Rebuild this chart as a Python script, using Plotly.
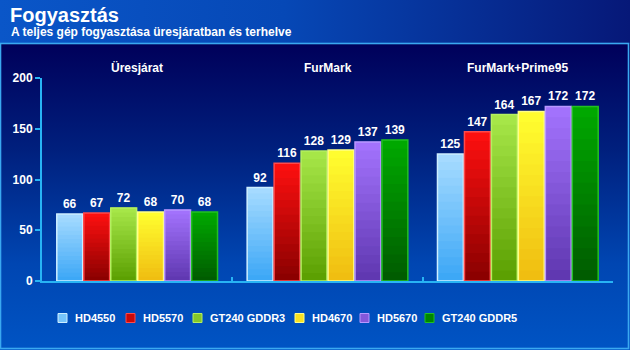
import base64
import plotly.graph_objects as go

categories = ["Üresjárat", "FurMark", "FurMark+Prime95"]
series_names = ["HD4550", "HD5570", "GT240 GDDR3", "HD4670", "HD5670", "GT240 GDDR5"]
hd4550 = [66, 92, 125]
hd5570 = [67, 116, 147]
gt240_gddr3 = [72, 128, 164]
hd4670 = [68, 129, 167]
hd5670 = [70, 137, 172]
gt240_gddr5 = [68, 139, 172]
y_ticks = [0, 50, 100, 150, 200]

series_values = [hd4550, hd5570, gt240_gddr3, hd4670, hd5670, gt240_gddr5]
tops = ["#a8dcff", "#ff1010", "#a8e84a", "#ffff30", "#a474ff", "#00aa00"]
bottoms = ["#3aa6f6", "#880000", "#5a9e00", "#f0bc10", "#5e36ae", "#005a00"]
edges = ["#cdeeff", "#ff4a4a", "#b4f060", "#ffff88", "#b898ff", "#22c022"]
legend_x = [58, 126, 193, 295, 360, 425]   # legend square left edges (px)

W, H = 630, 350
L, R, T, B = 42, 17, 78, 69
pw, ph = W - L - R, H - T - B
NSEG = 16


def hex2rgb(h):
    h = h.lstrip("#")
    return [int(h[i:i + 2], 16) for i in (0, 2, 4)]


def mix(c1, c2, t):
    a, b = hex2rgb(c1), hex2rgb(c2)
    return "rgb(%d,%d,%d)" % tuple(round(a[i] + (b[i] - a[i]) * t) for i in range(3))


def px_x(p):
    return (p - L) / pw


def px_y(p):
    return (H - B - p) / ph


svg = f'''<svg xmlns="http://www.w3.org/2000/svg" width="{W}" height="{H}" viewBox="0 0 {W} {H}">
<defs>
<linearGradient id="hd" x1="0" y1="0" x2="1" y2="0">
<stop offset="0" stop-color="#0a56c8"/><stop offset="0.45" stop-color="#0648b6"/><stop offset="1" stop-color="#061878"/>
</linearGradient>
<linearGradient id="bd" x1="0" y1="0" x2="0" y2="1">
<stop offset="0" stop-color="#00005a"/><stop offset="0.35" stop-color="#00207e"/><stop offset="0.72" stop-color="#0046b2"/><stop offset="1" stop-color="#0054c4"/>
</linearGradient>
</defs>
<rect x="0" y="0" width="{W}" height="44" fill="url(#hd)"/>
<rect x="0" y="44" width="{W}" height="{H-44}" fill="url(#bd)"/>
<rect x="0.5" y="43.5" width="{W-2}" height="{H-45}" fill="none" stroke="#3aa8f0" stroke-width="1.6"/>
</svg>'''
uri = "data:image/svg+xml;base64," + base64.b64encode(svg.encode()).decode()

font = "Liberation Sans, Arial, sans-serif"
fig = go.Figure()
for si, (name, vals) in enumerate(zip(series_names, series_values)):
    # gradient: overlapping layers, each reaching from a fraction of the value up to the value
    for k in range(NSEG):
        t = (k + 0.5) / NSEG  # 0 bottom -> 1 top
        fig.add_trace(go.Bar(
            x=categories, y=[v * (1 - k / NSEG) for v in vals],
            base=[v * k / NSEG for v in vals],
            offsetgroup=str(si), showlegend=False, hoverinfo="skip",
            marker=dict(color=mix(bottoms[si], tops[si], t), line=dict(width=0)),
        ))
    fig.add_trace(go.Bar(
        name=name, x=categories, y=vals, offsetgroup=str(si),
        marker=dict(color="rgba(0,0,0,0)", line=dict(color=edges[si], width=1.5)),
        text=[str(v) for v in vals], textposition="outside",
        textfont=dict(family=font, size=12, color="white", weight="bold"),
        constraintext="none", cliponaxis=False, showlegend=False,
    ))

for c in categories:
    fig.add_annotation(x=c, y=1, xref="x", yref="paper", yanchor="bottom",
                       text="<b>%s</b>" % c, showarrow=False, yshift=1,
                       font=dict(family=font, size=12, color="white"))

fig.add_annotation(x=px_x(8), y=px_y(15), xref="paper", yref="paper",
                   text="<b>Fogyasztás</b>", showarrow=False, xanchor="left", yanchor="middle",
                   font=dict(family=font, size=20, color="white"))
fig.add_annotation(x=px_x(9), y=px_y(32), xref="paper", yref="paper",
                   text="<b>A teljes gép fogyasztása üresjáratban és terhelve</b>", showarrow=False,
                   xanchor="left", yanchor="middle",
                   font=dict(family=font, size=12, color="white"))

# legend (squares + labels)
for name, lx, tc, bc, ec in zip(series_names, legend_x, tops, bottoms, edges):
    fig.add_shape(type="rect", xref="paper", yref="paper",
                  x0=px_x(lx), x1=px_x(lx + 9), y0=px_y(322.5), y1=px_y(313.5),
                  fillcolor=mix(bc, tc, 0.55), line=dict(color=ec, width=1))
    fig.add_annotation(x=px_x(lx + 15), y=px_y(318), xref="paper", yref="paper",
                       text="<b>%s</b>" % name, showarrow=False, xanchor="left", yanchor="middle",
                       font=dict(family=font, size=11, color="white"))

fig.add_layout_image(source=uri, xref="paper", yref="paper",
                     x=-L / pw, y=(H - B) / ph, sizex=W / pw, sizey=H / ph,
                     xanchor="left", yanchor="top", sizing="stretch", layer="below")

fig.update_layout(
    width=W, height=H,
    margin=dict(l=L, r=R, t=T, b=B, pad=0),
    paper_bgcolor="rgba(0,0,0,0)", plot_bgcolor="rgba(0,0,0,0)",
    barmode="group", bargap=0.15, bargroupgap=0.04,
    showlegend=False,
    xaxis=dict(showticklabels=False, showline=True, linecolor="#28b4f4", linewidth=2,
               ticks="inside", tickson="boundaries", ticklen=4, tickcolor="#28b4f4",
               tickwidth=2, showgrid=False, zeroline=False),
    yaxis=dict(range=[0, 200], tickvals=y_ticks, showline=True, linecolor="#28b4f4",
               linewidth=2, ticks="outside", ticklen=5, tickcolor="#28b4f4", tickwidth=2,
               showgrid=False, zeroline=False,
               tickfont=dict(family=font, size=12, color="white", weight="bold")),
)
fig.write_html("out.html")
